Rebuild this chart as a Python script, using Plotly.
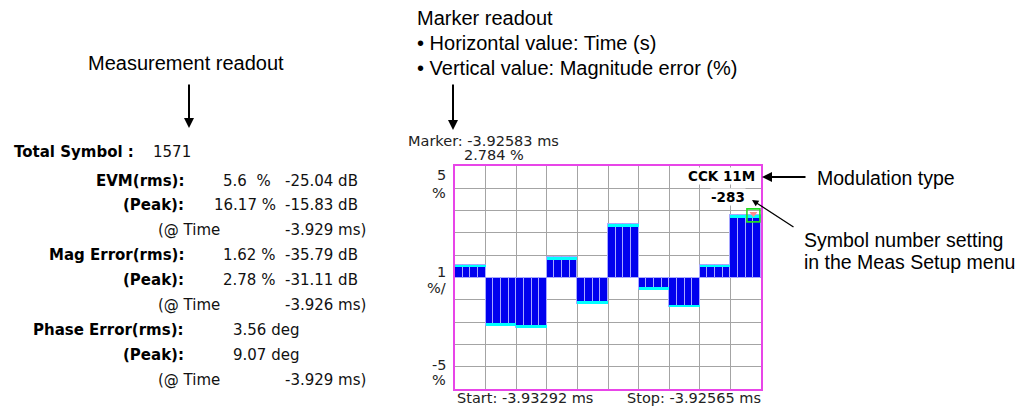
import plotly.graph_objects as go
import numpy as np

# ---------------- data ----------------
START_MS = -3.93292
STOP_MS = -3.92565
N_SAMPLES = 40
# magnitude error (%) per sample (4 samples per symbol)
MAG_ERR = [0.57, 0.57, 0.57, 0.57,
           -2.18, -2.18, -2.18, -2.18,
           -2.27, -2.27, -2.27, -2.27,
           0.90, 0.90, 0.90, 0.90,
           -1.18, -1.18, -1.18, -1.18,
           2.39, 2.39, 2.39, 2.39,
           -0.55, -0.55, -0.55, -0.55,
           -1.34, -1.34, -1.34, -1.34,
           0.58, 0.58, 0.58, 0.58,
           2.784, 2.784, 2.784, 2.784]
MARKER_TIME = -3.92583
MARKER_VALUE = 2.784

READ_LABELS = ["EVM(rms):", "(Peak):", "Mag Error(rms):", "(Peak):",
               "Phase Error(rms):", "(Peak):"]
READ_PCT = ["5.6  %", "16.17 %", "1.62 %", "2.78 %", "3.56 deg", "9.07 deg"]
READ_DB = ["-25.04 dB", "-15.83 dB", "-35.79 dB", "-31.11 dB", "", ""]
AT_TIMES = ["-3.929 ms)", "-3.926 ms)", "-3.929 ms)"]
TOTAL_SYMBOL = "1571"
MOD_TYPE = "CCK 11M"
SYMBOL_NUM = "-283"

# ---------------- geometry helpers ----------------
W, H = 1017, 408
L, R, T, B = 455, 761, 166, 389


def px(x):
    return (x - L) / (R - L)


def py(y):
    return (B - y) / (B - T)


dt = (STOP_MS - START_MS) / N_SAMPLES
times = START_MS + dt * np.arange(N_SAMPLES)
vals = np.array(MAG_ERR)
CAP = 0.12
sign = np.sign(vals)

fig = go.Figure()
fig.add_bar(x=times, y=vals, offset=0, width=dt, opacity=1,
            marker=dict(color="#0000ee", opacity=1,
                        line=dict(color="#a8a8ff", width=1)),
            hoverinfo="skip")
fig.add_bar(x=times, y=CAP * sign, base=vals - CAP * sign, offset=0, width=dt,
            opacity=1,
            marker=dict(color="#00ffff", opacity=1, line=dict(width=0)),
            hoverinfo="skip")
fig.add_scatter(x=[MARKER_TIME], y=[MARKER_VALUE], mode="markers",
                marker=dict(symbol="square-open", size=13, color="#22dd22",
                            line=dict(width=1.6, color="#22dd22")),
                cliponaxis=False, hoverinfo="skip")
fig.add_scatter(x=[MARKER_TIME], y=[MARKER_VALUE + 0.08], mode="markers",
                marker=dict(symbol="triangle-down", size=7, color="#ff8c8c"),
                cliponaxis=False, hoverinfo="skip")

ax_common = dict(showgrid=True, gridcolor="#a4a4a4", gridwidth=1.3,
                 showticklabels=False, ticks="", zeroline=False,
                 showline=True, mirror=True, linecolor="#e845e8", linewidth=2)
fig.update_xaxes(range=[START_MS, STOP_MS], tick0=START_MS,
                 dtick=(STOP_MS - START_MS) / 10, **ax_common)
fig.update_yaxes(range=[-5, 5], tick0=0, dtick=1, **ax_common)

ann = []
SANS = "DejaVu Sans"
HELV = "Liberation Sans"


def text(x, y, s, size=15, family=SANS, anchor="left", color="#111111",
         bg=None):
    d = dict(x=px(x), y=py(y), xref="paper", yref="paper", text=s,
             showarrow=False, xanchor=anchor, yanchor="middle",
             font=dict(family=family, size=size, color=color))
    if bg:
        d["bgcolor"] = bg
        d["borderpad"] = 0
    ann.append(d)


def arrow(hx, hy, tx, ty, width=2.0, size=1.0):
    ann.append(dict(x=px(hx), y=py(hy), xref="paper", yref="paper", text="",
                    showarrow=True, ax=tx - hx, ay=ty - hy, axref="pixel",
                    ayref="pixel", arrowhead=2, arrowsize=size,
                    arrowwidth=width, arrowcolor="#000000", standoff=0))


# left readout
text(12, 151.7, "<b>Total Symbol :</b>", 15, color="#000000")
text(151, 151.7, TOTAL_SYMBOL, 15)
rows_y = [180.7, 205, 255, 280, 330, 355]
for i, lab in enumerate(READ_LABELS):
    text(186, rows_y[i], "<b>" + lab + "</b>", 15, anchor="right",
         color="#000000")
    left = 231 if "deg" in READ_PCT[i] else (212 if i == 1 else 221)
    text(left, rows_y[i], READ_PCT[i], 15)
    if READ_DB[i]:
        text(283, rows_y[i], READ_DB[i], 15)
for y, t in zip([230, 305, 380], AT_TIMES):
    text(156, y, "(@ Time", 15)
    text(283, y, t, 15)

# callouts
text(186, 63, "Measurement readout", 20, HELV, anchor="center",
     color="#000000")
arrow(189, 128, 189, 83)
text(415, 18, "Marker readout", 20, HELV, color="#000000")
text(415, 43, "\u2022 Horizontal value: Time (s)", 20, HELV, color="#000000")
text(415, 68, "\u2022 Vertical value: Magnitude error (%)", 20, HELV,
     color="#000000")
arrow(453, 130, 453, 83)
text(815, 178, "Modulation type", 19.5, HELV, color="#000000")
arrow(762, 177, 807, 177)
text(802, 240, "Symbol number setting", 19.5, HELV, color="#000000")
text(802, 262, "in the Meas Setup menu", 19.5, HELV, color="#000000")
arrow(752, 200, 795, 228, width=1.3)

# instrument texts
text(406, 141, "Marker: -3.92583 ms", 14.5, color="#222222")
text(462, 155, "2.784 %", 14.5, color="#222222")
text(455, 398, "Start: -3.93292 ms", 14.5, color="#222222")
text(625, 398, "Stop: -3.92565 ms", 14.5, color="#222222")
for y, s in [(175, "5"), (193, "%"), (272, "1"), (288, "%/"), (365, "-5"),
             (380, "%")]:
    text(448, y, s, 14.5, anchor="right", color="#222222")
text(756, 176, "<b>" + MOD_TYPE + "</b>", 13.5, anchor="right",
     color="#000000", bg="#ffffff")
text(746, 197, "<b>" + SYMBOL_NUM + "</b>", 13.5, anchor="right",
     color="#000000", bg="#ffffff")

fig.update_layout(width=W, height=H, autosize=False,
                  margin=dict(l=L, r=W - R, t=T, b=H - B, pad=0),
                  plot_bgcolor="#ffffff", paper_bgcolor="#ffffff",
                  barmode="overlay", bargap=0, showlegend=False,
                  hovermode=False, annotations=ann)
fig.write_html("out.html", config={"displayModeBar": False},
               post_script="document.body.style.margin='0';"
                           "document.body.style.overflow='hidden';")
